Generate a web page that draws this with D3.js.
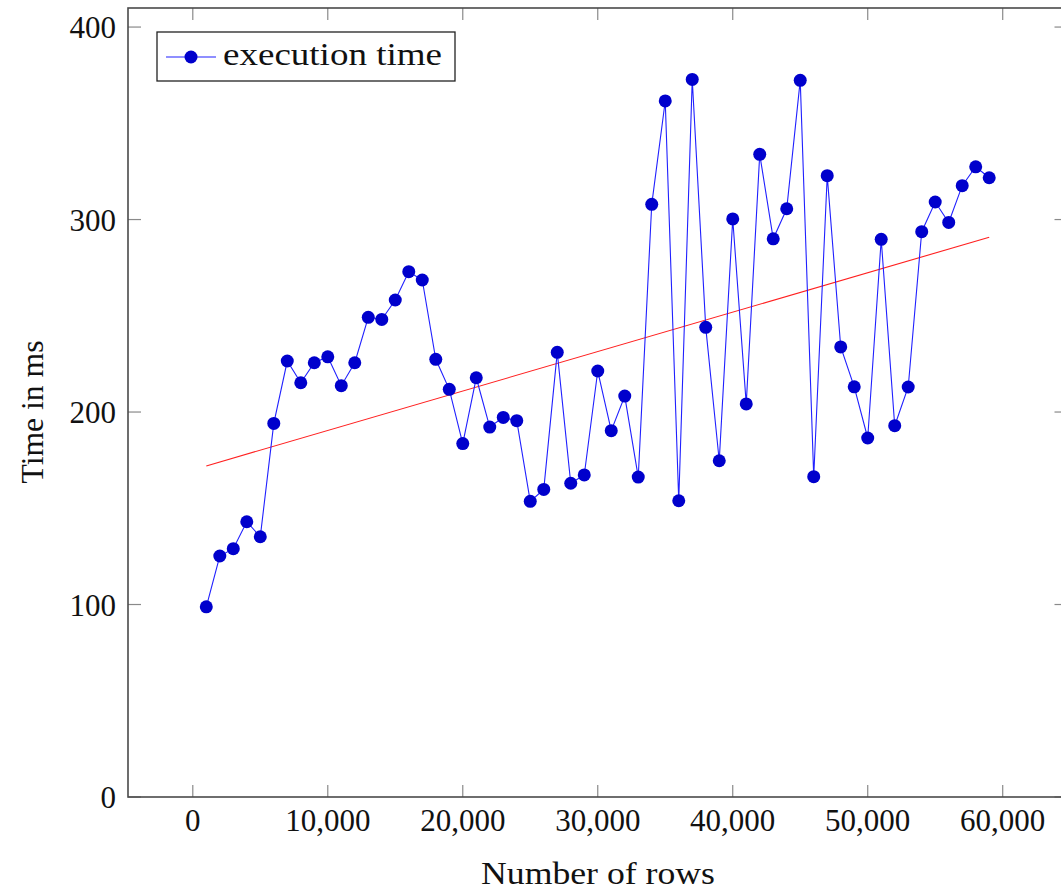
<!DOCTYPE html>
<html>
<head>
<meta charset="utf-8">
<script src="https://cdn.jsdelivr.net/npm/d3@7"></script>
<style>
  body { margin: 0; background: white; }
  text { font-family: "Liberation Serif", "DejaVu Serif", serif; fill: #111; }
</style>
</head>
<body>
<div id="chart"></div>
<script>
// rows (x) and execution times in ms (y)
var rows = [1000, 2000, 3000, 4000, 5000, 6000, 7000, 8000, 9000, 10000,
  11000, 12000, 13000, 14000, 15000, 16000, 17000, 18000, 19000, 20000,
  21000, 22000, 23000, 24000, 25000, 26000, 27000, 28000, 29000, 30000,
  31000, 32000, 33000, 34000, 35000, 36000, 37000, 38000, 39000, 40000,
  41000, 42000, 43000, 44000, 45000, 46000, 47000, 48000, 49000, 50000,
  51000, 52000, 53000, 54000, 55000, 56000, 57000, 58000, 59000];
var times = [98.8, 125.2, 129, 143, 135.2, 194.1, 226.5, 215.2, 225.6, 228.7,
  213.7, 225.6, 249.2, 248.1, 258.2, 272.9, 268.6, 227.4, 211.8, 183.6,
  217.8, 192.2, 197.2, 195.5, 153.6, 159.8, 231, 163, 167.3, 221.3,
  190.3, 208.3, 166.2, 307.9, 361.6, 153.9, 372.8, 244, 174.7, 300.3,
  204.2, 333.9, 290, 305.6, 372.3, 166.4, 322.8, 233.8, 213.1, 186.5,
  289.7, 192.9, 213, 293.7, 309.1, 298.5, 317.6, 327.4, 321.7];

// red trend line end points
var trendX = [1000, 59000];
var trendY = [172, 290.8];

var xTicks = [0, 10000, 20000, 30000, 40000, 50000, 60000];
var yTicks = [0, 100, 200, 300, 400];

var width = 1061, height = 890;
var margin = {top: 8, left: 128, bottom: 797};
var plotRight = 1067.5;

var svg = d3.select("#chart")
  .append("svg")
  .attr("width", width)
  .attr("height", height);

var x = d3.scaleLinear().domain([-4800, 64800]).range([margin.left, plotRight]);
var y = d3.scaleLinear().domain([0, 409.9]).range([margin.bottom, margin.top]);

var fmt = d3.format(",");
var tickColor = "#8a8a8a";

// ticks on all four sides, pointing inward
var g = svg.append("g");
xTicks.forEach(function(t) {
  g.append("line").attr("x1", x(t)).attr("x2", x(t))
    .attr("y1", margin.bottom).attr("y2", margin.bottom - 12)
    .attr("stroke", tickColor).attr("stroke-width", 1.2);
  g.append("line").attr("x1", x(t)).attr("x2", x(t))
    .attr("y1", margin.top).attr("y2", margin.top + 12)
    .attr("stroke", tickColor).attr("stroke-width", 1.2);
  g.append("text")
    .attr("x", x(t)).attr("y", 831)
    .attr("text-anchor", "middle")
    .attr("font-size", 31)
    .text(fmt(t));
});
yTicks.forEach(function(t) {
  g.append("line").attr("x1", margin.left).attr("x2", margin.left + 13)
    .attr("y1", y(t)).attr("y2", y(t))
    .attr("stroke", tickColor).attr("stroke-width", 1.2);
  g.append("line").attr("x1", plotRight).attr("x2", plotRight - 13)
    .attr("y1", y(t)).attr("y2", y(t))
    .attr("stroke", tickColor).attr("stroke-width", 1.2);
  g.append("text")
    .attr("x", 116).attr("y", y(t) + 11)
    .attr("text-anchor", "end")
    .attr("font-size", 31)
    .text(fmt(t));
});

// frame
svg.append("rect")
  .attr("x", margin.left).attr("y", margin.top)
  .attr("width", plotRight - margin.left)
  .attr("height", margin.bottom - margin.top)
  .attr("fill", "none")
  .attr("stroke", "#4a4a4a")
  .attr("stroke-width", 1.6);

// trend line
svg.append("path")
  .datum(d3.zip(trendX, trendY))
  .attr("d", d3.line().x(d => x(d[0])).y(d => y(d[1])))
  .attr("fill", "none")
  .attr("stroke", "#ff2020")
  .attr("stroke-width", 1.1);

// execution time series
var pts = d3.zip(rows, times);
svg.append("path")
  .datum(pts)
  .attr("d", d3.line().x(d => x(d[0])).y(d => y(d[1])))
  .attr("fill", "none")
  .attr("stroke", "#2020ff")
  .attr("stroke-width", 1.1);

svg.selectAll("circle.pt")
  .data(pts)
  .enter()
  .append("circle")
  .attr("class", "pt")
  .attr("cx", d => x(d[0]))
  .attr("cy", d => y(d[1]))
  .attr("r", 6.5)
  .attr("fill", "#0000cc");

// legend
var lg = svg.append("g");
lg.append("rect")
  .attr("x", 157).attr("y", 32)
  .attr("width", 298).attr("height", 49)
  .attr("fill", "white")
  .attr("stroke", "#222")
  .attr("stroke-width", 1.3);
lg.append("line")
  .attr("x1", 166).attr("x2", 216)
  .attr("y1", 57).attr("y2", 57)
  .attr("stroke", "#2020ff").attr("stroke-width", 1.1);
lg.append("circle")
  .attr("cx", 191).attr("cy", 57).attr("r", 6.5)
  .attr("fill", "#0000cc");
lg.append("text")
  .attr("x", 223).attr("y", 65)
  .attr("font-size", 31)
  .attr("textLength", 219)
  .attr("lengthAdjust", "spacingAndGlyphs")
  .text("execution time");

// axis labels
svg.append("text")
  .attr("x", 598).attr("y", 884)
  .attr("text-anchor", "middle")
  .attr("font-size", 31)
  .attr("textLength", 234)
  .attr("lengthAdjust", "spacingAndGlyphs")
  .text("Number of rows");

svg.append("text")
  .attr("transform", "translate(43,412) rotate(-90)")
  .attr("text-anchor", "middle")
  .attr("font-size", 31)
  .attr("textLength", 143)
  .attr("lengthAdjust", "spacingAndGlyphs")
  .text("Time in ms");
</script>
</body>
</html>
